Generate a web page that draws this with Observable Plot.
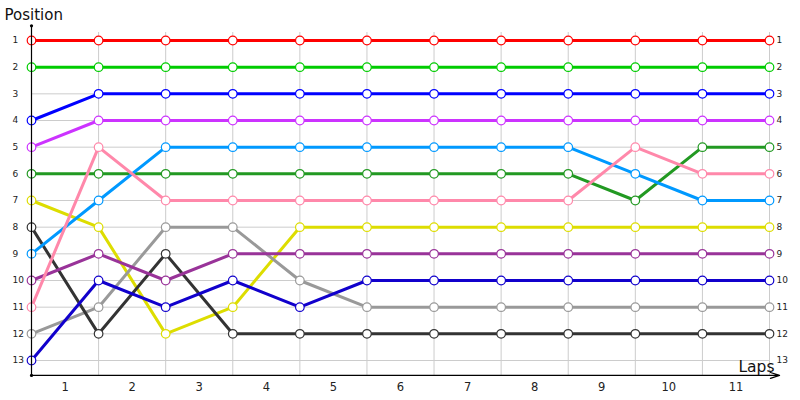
<!DOCTYPE html>
<html>
<head>
<meta charset="utf-8">
<script src="https://cdn.jsdelivr.net/npm/d3@7"></script>
<script src="https://cdn.jsdelivr.net/npm/@observablehq/plot@0.6"></script>
<style>
  html, body { margin: 0; padding: 0; background: #fff; }
  svg { display: block; font-family: "DejaVu Sans", sans-serif; }
</style>
</head>
<body>
<div id="chart"></div>
<script>
// ---- data ----
const laps = [0, 1, 2, 3, 4, 5, 6, 7, 8, 9, 10, 11];
const lapLabels = ["1", "2", "3", "4", "5", "6", "7", "8", "9", "10", "11"];
const positions = [1, 2, 3, 4, 5, 6, 7, 8, 9, 10, 11, 12, 13];

const red       = [1, 1, 1, 1, 1, 1, 1, 1, 1, 1, 1, 1];
const green     = [2, 2, 2, 2, 2, 2, 2, 2, 2, 2, 2, 2];
const blue      = [4, 3, 3, 3, 3, 3, 3, 3, 3, 3, 3, 3];
const violet    = [5, 4, 4, 4, 4, 4, 4, 4, 4, 4, 4, 4];
const darkGreen = [6, 6, 6, 6, 6, 6, 6, 6, 6, 7, 5, 5];
const yellow    = [7, 8, 12, 11, 8, 8, 8, 8, 8, 8, 8, 8];
const black     = [8, 12, 9, 12, 12, 12, 12, 12, 12, 12, 12, 12];
const skyBlue   = [9, 7, 5, 5, 5, 5, 5, 5, 5, 6, 7, 7];
const purple    = [10, 9, 10, 9, 9, 9, 9, 9, 9, 9, 9, 9];
const pink      = [11, 5, 7, 7, 7, 7, 7, 7, 7, 5, 6, 6];
const gray      = [12, 11, 8, 8, 10, 11, 11, 11, 11, 11, 11, 11];
const navy      = [13, 10, 11, 10, 11, 10, 10, 10, 10, 10, 10, 10];

const series = [
  {name: "red", values: red, color: "#ff0000"},
  {name: "green", values: green, color: "#00cc00"},
  {name: "blue", values: blue, color: "#0000ff"},
  {name: "violet", values: violet, color: "#cc33ff"},
  {name: "darkGreen", values: darkGreen, color: "#229922"},
  {name: "yellow", values: yellow, color: "#dddd00"},
  {name: "gray", values: gray, color: "#999999"},
  {name: "black", values: black, color: "#333333"},
  {name: "skyBlue", values: skyBlue, color: "#0099ff"},
  {name: "purple", values: purple, color: "#993399"},
  {name: "pink", values: pink, color: "#ff88aa"},
  {name: "navy", values: navy, color: "#1100cc"}
];

const rows = series.flatMap(s => s.values.map((v, i) => ({series: s.name, color: s.color, lap: laps[i], pos: v})));

const xMax = laps[laps.length - 1];
const yTop = 0.7, yBottom = 13.56;

const chart = Plot.plot({
  width: 800,
  height: 400,
  margin: 0,
  x: {domain: [0, xMax], range: [31, 769], axis: null},
  y: {domain: [1, 13], range: [40, 360], axis: null},
  color: {type: "identity"},
  marks: [
    // grid
    Plot.ruleY(positions, {x1: 0, x2: xMax, stroke: "#cccccc", strokeWidth: 1}),
    Plot.ruleX(laps.slice(1), {y1: yTop, y2: yBottom, stroke: "#cccccc", strokeWidth: 1}),
    // lines
    Plot.line(rows, {x: "lap", y: "pos", z: "series", stroke: "color", strokeWidth: 3, strokeLinejoin: "miter"}),
    // points
    Plot.dot(rows, {x: "lap", y: "pos", stroke: "color", fill: "white", r: 4.3, strokeWidth: 1.2}),
    // axes
    Plot.ruleX([0], {y1: 0.45, y2: yBottom, stroke: "black", strokeWidth: 1.2}),
    Plot.arrow([0], {x1: 0, x2: 11.15, y1: yBottom, y2: yBottom, stroke: "black", strokeWidth: 1.2, headLength: 12, headAngle: 35}),
    Plot.dot([[0, 0.45], [0, yBottom]], {x: d => d[0], y: d => d[1], r: 1.6, fill: "black"}),
    // left labels
    Plot.text(positions, {x: 0, y: d => d, text: d => String(d), dx: -19, textAnchor: "start", fontSize: 9, fill: "#222"}),
    // right labels
    Plot.text(positions, {x: xMax, y: d => d, text: d => String(d), dx: 7, textAnchor: "start", fontSize: 9, fill: "#222"}),
    // lap labels
    Plot.text(lapLabels, {x: (d, i) => laps[i] + 0.5, frameAnchor: "bottom", dy: -10, text: d => d, fontSize: 11.5, fill: "#222"}),
    // titles
    Plot.text(["Position"], {frameAnchor: "top-left", dx: 4, dy: 9, text: d => d, textAnchor: "start", lineAnchor: "top", fontSize: 15, fill: "#111"}),
    Plot.text(["Laps"], {frameAnchor: "bottom-right", dx: -26, dy: -29, text: d => d, textAnchor: "end", lineAnchor: "bottom", fontSize: 15.5, fill: "#111"})
  ]
});

document.getElementById("chart").appendChild(chart);
</script>
</body>
</html>
